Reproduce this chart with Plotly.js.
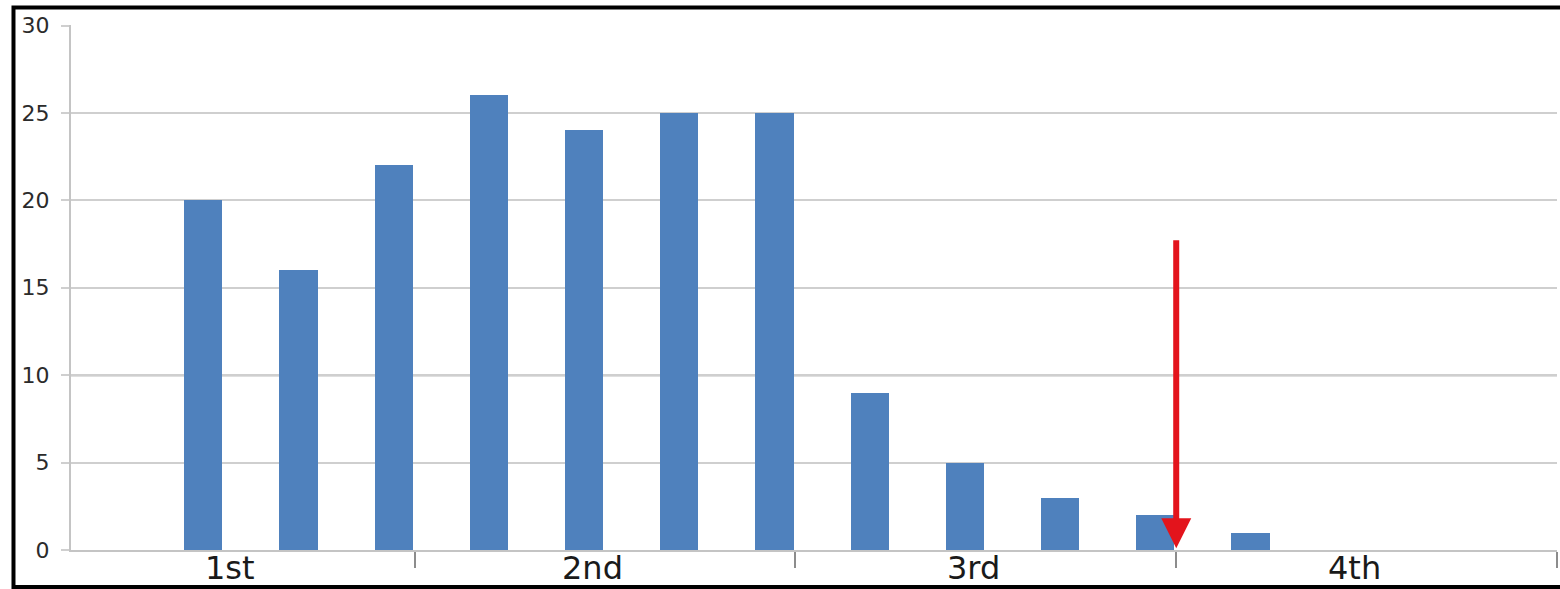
<!DOCTYPE html>
<html>
<head>
<meta charset="utf-8">
<script src="https://cdn.plot.ly/plotly-3.0.1.min.js"></script>
<style>
  html, body { margin: 0; padding: 0; background: #ffffff; }
  #chart { width: 1560px; height: 589px; }
</style>
</head>
<body>
<div id="chart"></div>
<script>
// ---- data ----
const groupLabels = ['1st', '2nd', '3rd', '4th'];
const slotsPerGroup = 4;
const slotIndex = [1, 2, 3, 4, 5, 6, 7, 8, 9, 10, 11, 12];
const values = [20, 16, 22, 26, 24, 25, 25, 9, 5, 3, 2, 1];
const yTicks = [0, 5, 10, 15, 20, 25, 30];
const arrowSlot = 12;      // the arrow points at the 3rd/4th boundary
const arrowTop = 17.8;     // arrow tail value
const arrowTip = 0.1;

// ---- derived ----
const boundaries = groupLabels.map((_, i) => (i + 1) * slotsPerGroup);
const xStart = 0.39, xEnd = 16.0;
const labelX = groupLabels.map((_, i) => {
  const lo = Math.max(i * slotsPerGroup, xStart);
  const hi = (i + 1) * slotsPerGroup;
  return (lo + hi) / 2 - 0.13;
});

const trace = {
  type: 'bar',
  x: slotIndex,
  y: values,
  width: 0.4,
  offset: 0.58,
  marker: { color: '#4F81BD', line: { width: 0 } },
  hoverinfo: 'x+y'
};

const annotations = groupLabels.map((t, i) => ({
  x: labelX[i], xref: 'x',
  y: -0.035, yref: 'paper',
  yanchor: 'middle', xanchor: 'center',
  text: t, showarrow: false,
  font: { family: 'DejaVu Sans, sans-serif', size: 32, color: '#1a1a1a' }
}));
annotations.push({
  x: arrowSlot, y: arrowTip, xref: 'x', yref: 'y',
  ax: arrowSlot, ay: arrowTop, axref: 'x', ayref: 'y',
  text: '', showarrow: true,
  arrowhead: 2, arrowsize: 1, arrowwidth: 6, arrowcolor: '#E3141C',
  standoff: 0, startstandoff: 0
});

const layout = {
  width: 1560, height: 589,
  margin: { l: 71, r: 3, t: 25, b: 39, pad: 0 },
  paper_bgcolor: '#ffffff', plot_bgcolor: '#ffffff',
  showlegend: false,
  bargap: 0,
  xaxis: {
    type: 'linear',
    range: [xStart, xEnd],
    tickmode: 'array', tickvals: boundaries, ticktext: boundaries.map(() => ''),
    ticks: 'outside', ticklen: 16, tickwidth: 2, tickcolor: '#8c8c8c',
    showgrid: false, zeroline: false,
    showline: true, linecolor: '#c4c4c4', linewidth: 2,
    fixedrange: true
  },
  yaxis: {
    range: [0, 30.03],
    tickmode: 'array', tickvals: yTicks, ticktext: yTicks.map(String),
    ticks: 'outside', ticklen: 8, tickwidth: 2, tickcolor: '#cfcfcf',
    ticklabelstandoff: 7,
    tickfont: { family: 'DejaVu Sans, sans-serif', size: 22, color: '#2b2b2b' },
    showgrid: true, gridcolor: '#cfcfcf', gridwidth: 2,
    zeroline: false,
    showline: true, linecolor: '#c4c4c4', linewidth: 2,
    fixedrange: true
  },
  shapes: [
    { type: 'line', xref: 'paper', yref: 'y', x0: 0, x1: 1, y0: 10, y1: 10,
      line: { color: '#808080', width: 2 }, layer: 'between' },
    // outer black frame
    { type: 'rect', xref: 'paper', yref: 'paper',
      x0: -0.0387, x1: 1.02, y0: -0.0705, y1: 1.0333,
      line: { color: '#000000', width: 4 }, fillcolor: 'rgba(0,0,0,0)', layer: 'above' }
  ],
  annotations: annotations
};

Plotly.newPlot('chart', [trace], layout, { displayModeBar: false, staticPlot: true });
</script>
</body>
</html>
